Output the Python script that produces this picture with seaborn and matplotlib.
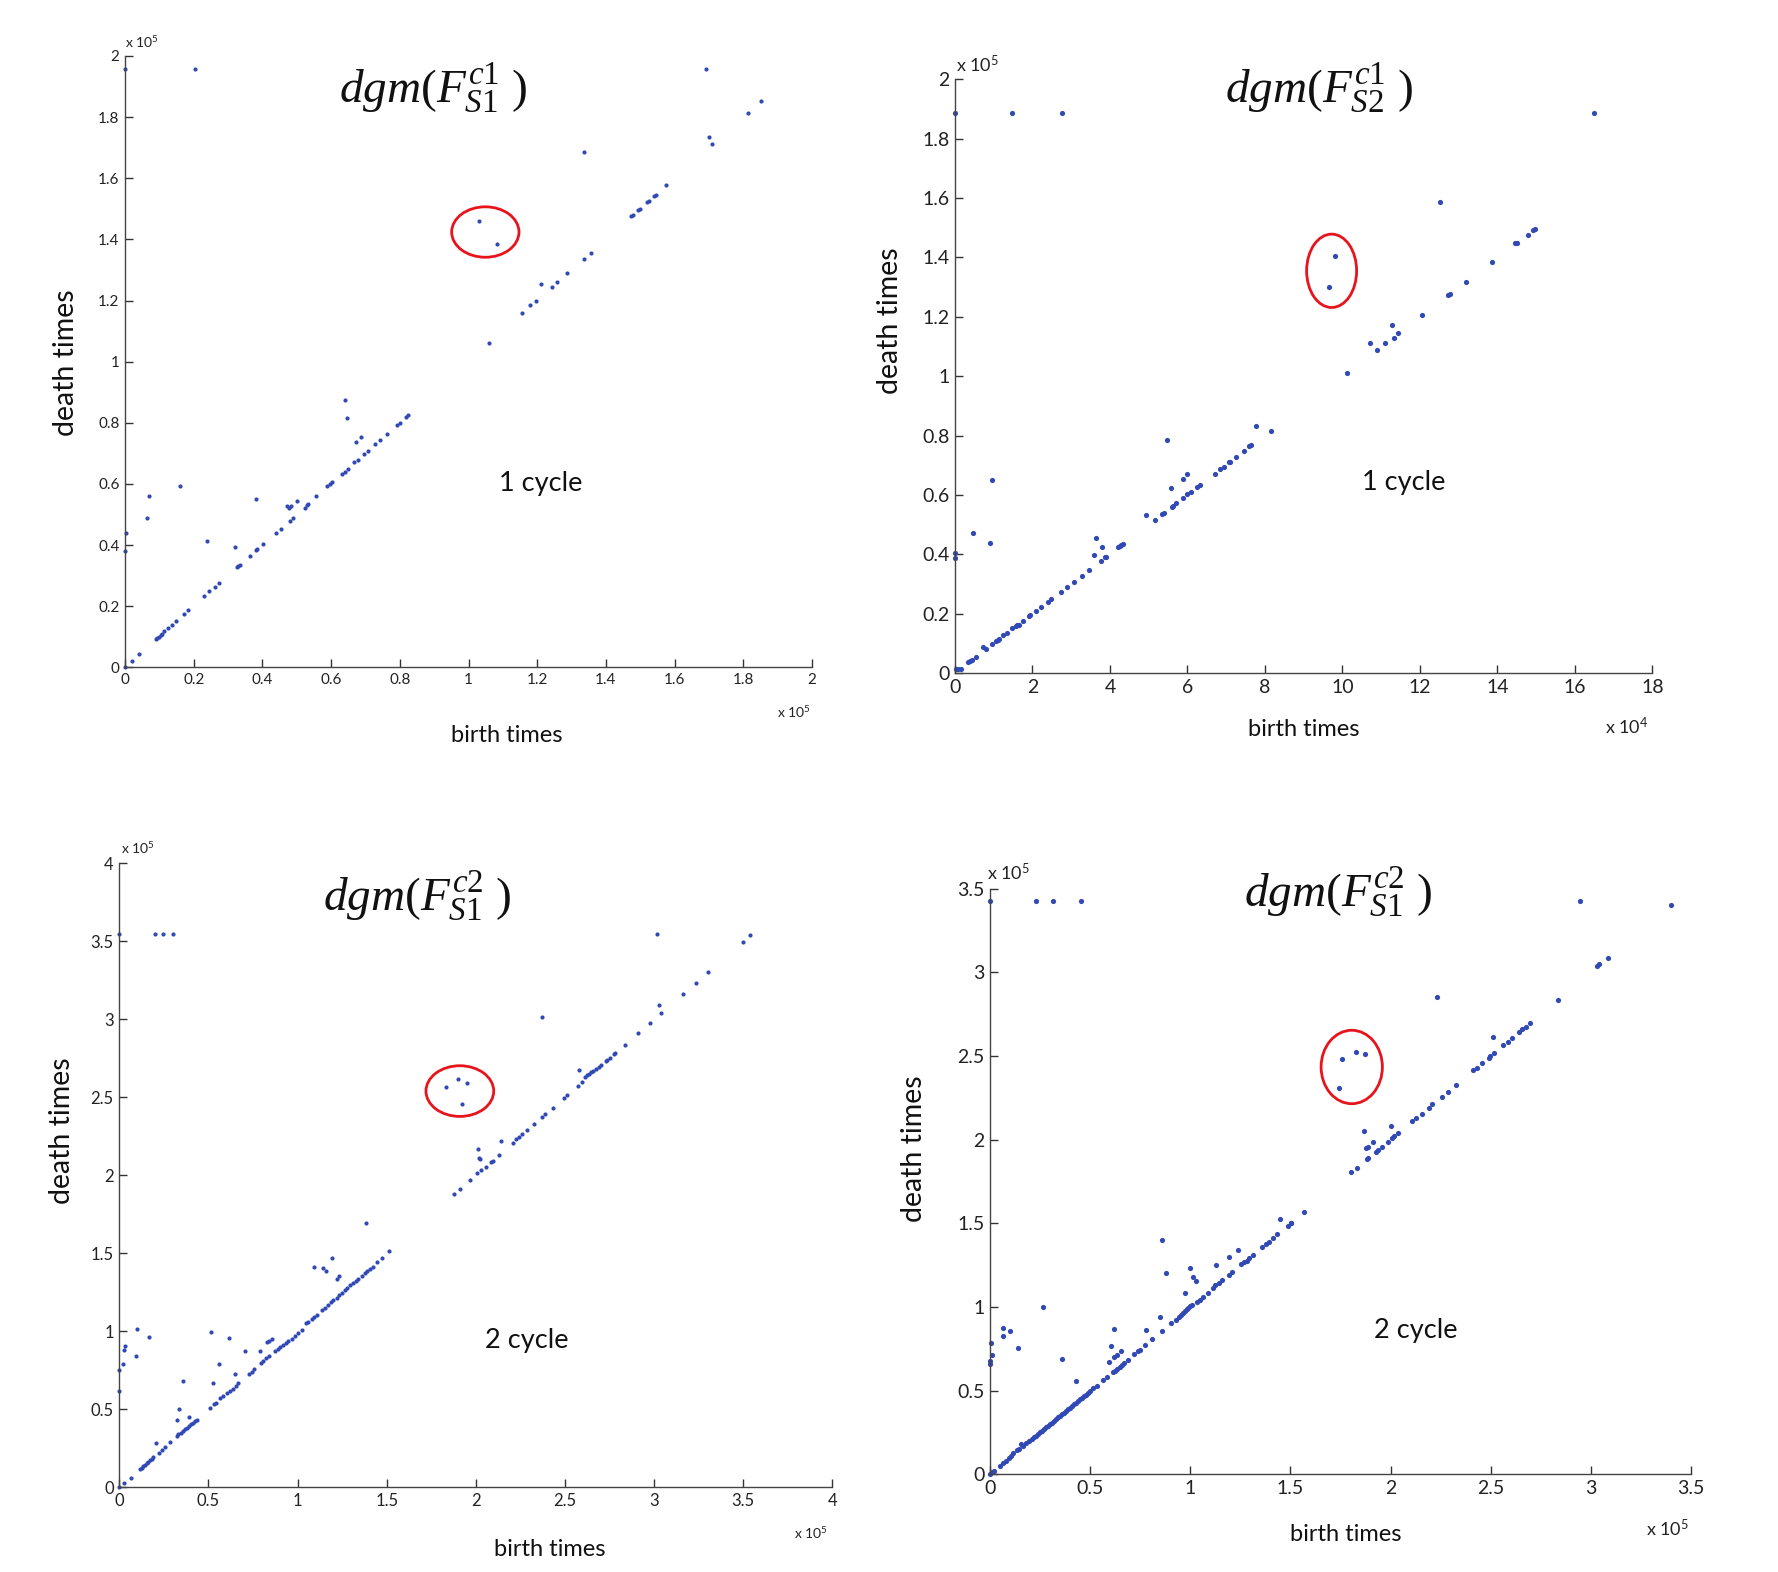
import numpy as np
import pandas as pd
import matplotlib
matplotlib.use("Agg")
import matplotlib.pyplot as plt
from matplotlib.patches import Ellipse
import seaborn as sns

# persistence diagram points, values in units of the offset shown on each axis
b1 = [0, 0.02, 0.042, 0, 0.003, 0.065, 0.071, 0.16,
      0.090, 0.094, 0.098, 0.105, 0.108, 0.115, 0.126, 0.138, 0.149,
      0.172, 0.184, 0.24, 0.231, 0.246, 0.262, 0.275, 0.32,
      0.325, 0.329, 0.334, 0.363, 0.382, 0.385, 0.382, 0.403, 0.44, 0.453,
      0.473, 0.477, 0.484, 0.479, 0.489, 0.501, 0.523, 0.531, 0.534, 0.557,
      0.589, 0.597, 0.604, 0.633, 0.64, 0.65, 0.64, 0.647, 0.666, 0.677, 0.673, 0.687,
      0.697, 0.707, 0.727, 0.742, 0.763, 0.793, 0.8, 0.817, 0.825,
      1.060, 1.157, 1.180, 1.196, 1.210, 1.243, 1.259, 1.287, 1.335, 1.356, 1.335,
      1.473, 1.479, 1.494, 1.498, 1.521, 1.526, 1.541, 1.546, 1.576,
      1.70, 1.708, 1.814, 1.851, 1.69, 0, 0.203,
      1.030, 1.083]
d1 = [0, 0.02, 0.044, 0.38, 0.44, 0.49, 0.56, 0.592,
      0.092, 0.096, 0.100, 0.107, 0.110, 0.118, 0.128, 0.140, 0.151,
      0.174, 0.189, 0.412, 0.232, 0.249, 0.263, 0.276, 0.395,
      0.327, 0.333, 0.335, 0.364, 0.384, 0.386, 0.55, 0.403, 0.441, 0.453,
      0.528, 0.521, 0.529, 0.48, 0.49, 0.545, 0.522, 0.531, 0.535, 0.559,
      0.594, 0.6, 0.606, 0.634, 0.64, 0.65, 0.876, 0.817, 0.671, 0.677, 0.737, 0.754,
      0.698, 0.707, 0.73, 0.743, 0.763, 0.794, 0.798, 0.818, 0.827,
      1.062, 1.159, 1.184, 1.197, 1.255, 1.243, 1.260, 1.289, 1.337, 1.355, 1.685,
      1.475, 1.480, 1.496, 1.499, 1.521, 1.525, 1.542, 1.546, 1.577,
      1.736, 1.711, 1.812, 1.852, 1.956, 1.956, 1.956,
      1.459, 1.384]

b2 = [0.03, 0.08, 0.15, 0, 0, 0.34, 0.38, 0.43, 0.55, 0.46, 0.72, 0.79, 0.90, 0.95, 0.95,
      1.05, 1.10, 1.14, 1.25, 1.34, 1.47, 1.57, 1.61, 1.65, 1.75, 1.91, 1.94, 2.10, 2.21,
      2.39, 2.48, 2.74, 2.89, 3.08, 3.27, 3.46, 3.58, 3.64, 3.79, 3.76, 3.86, 3.90,
      4.20, 4.25, 4.29, 4.34, 4.92, 5.16, 5.35, 5.40, 5.46, 5.58, 5.59, 5.63, 5.70, 5.88,
      5.89, 5.98, 5.99, 6.08, 6.24, 6.32, 6.72, 6.83, 6.93, 7.08, 7.10, 7.26, 7.47, 7.60,
      7.65, 7.78, 8.15,
      10.12, 10.72, 10.88, 11.11, 11.28, 11.32, 11.43, 12.06, 12.52, 12.72, 12.77, 13.18,
      13.86, 14.44, 14.50, 14.78, 14.92, 14.96,
      0, 1.46, 2.76, 16.48,
      9.80, 9.66]
d2 = [0.013, 0.015, 0.016, 0.387, 0.406, 0.037, 0.040, 0.045, 0.056, 0.471, 0.088, 0.081, 0.44, 0.651, 0.097,
      0.108, 0.111, 0.115, 0.128, 0.137, 0.151, 0.160, 0.162, 0.164, 0.176, 0.193, 0.196, 0.21, 0.224,
      0.240, 0.249, 0.274, 0.291, 0.309, 0.328, 0.347, 0.398, 0.454, 0.424, 0.378, 0.39, 0.393,
      0.424, 0.428, 0.433, 0.435, 0.534, 0.517, 0.537, 0.540, 0.787, 0.625, 0.561, 0.563, 0.572, 0.589,
      0.654, 0.671, 0.604, 0.609, 0.626, 0.634, 0.672, 0.687, 0.694, 0.711, 0.713, 0.727, 0.748, 0.765,
      0.769, 0.831, 0.816,
      1.012, 1.112, 1.087, 1.112, 1.174, 1.130, 1.145, 1.206, 1.585, 1.275, 1.277, 1.318,
      1.385, 1.447, 1.449, 1.476, 1.493, 1.495,
      1.885, 1.885, 1.885, 1.885,
      1.406, 1.301]

b3 = [0, 0.026, 0.064, 0, 0, 0.022, 0.028, 0.03, 0.093, 0.10, 0.164,
      0.116, 0.125, 0.135, 0.144, 0.153, 0.163, 0.172, 0.181, 0.19,
      0.207, 0.221, 0.237, 0.258, 0.286, 0.321, 0.335, 0.359, 0.389,
      0.321, 0.332, 0.344, 0.355, 0.366, 0.377, 0.389, 0.400, 0.411, 0.422, 0.434,
      0.514, 0.523, 0.51, 0.531, 0.542, 0.561,
      0.566, 0.583, 0.602, 0.621, 0.639, 0.652, 0.667, 0.617, 0.649, 0.703,
      0.729, 0.742, 0.757, 0.787, 0.793, 0.808, 0.822, 0.839, 0.826, 0.837, 0.856,
      0.873, 0.888, 0.901, 0.916, 0.933, 0.948, 0.966, 0.985, 1.004, 1.022, 1.047, 1.058,
      1.079, 1.093, 1.107, 1.135, 1.153, 1.172, 1.185, 1.2, 1.219, 1.234, 1.247, 1.266,
      1.279, 1.293, 1.308, 1.325, 1.34, 1.359, 1.378, 1.391, 1.406, 1.424, 1.443, 1.471, 1.514,
      1.093, 1.14, 1.159, 1.194, 1.219, 1.234, 1.381,
      1.879, 1.909, 1.965, 2.008, 2.017, 2.023, 2.013, 2.031, 2.055, 2.083, 2.094, 2.128,
      2.142, 2.206, 2.223, 2.242, 2.26, 2.288, 2.328, 2.371, 2.373, 2.389, 2.431, 2.492,
      2.511, 2.571, 2.576, 2.597, 2.612, 2.623, 2.636, 2.647, 2.658, 2.672, 2.689, 2.70,
      2.728, 2.733, 2.752, 2.776, 2.782, 2.835, 2.911, 2.976, 3.029, 3.036, 3.161, 3.233,
      3.303, 3.498, 3.537, 3.017,
      0, 0.2, 0.245, 0.30,
      1.832, 1.898, 1.948, 1.922]
d3 = [0, 0.026, 0.06, 0.617, 0.752, 0.788, 0.88, 0.906, 0.844, 1.017, 0.964,
      0.115, 0.124, 0.134, 0.144, 0.154, 0.163, 0.172, 0.181, 0.191,
      0.282, 0.22, 0.237, 0.26, 0.288, 0.434, 0.504, 0.684, 0.449,
      0.329, 0.340, 0.350, 0.361, 0.371, 0.382, 0.392, 0.403, 0.413, 0.424, 0.434,
      0.998, 0.667, 0.511, 0.532, 0.543, 0.791,
      0.571, 0.588, 0.603, 0.62, 0.632, 0.65, 0.667, 0.957, 0.724, 0.872,
      0.729, 0.741, 0.756, 0.874, 0.795, 0.812, 0.827, 0.840, 0.934, 0.936, 0.953,
      0.876, 0.889, 0.902, 0.912, 0.925, 0.940, 0.953, 0.968, 0.987, 1.009, 1.051, 1.058,
      1.079, 1.094, 1.107, 1.135, 1.152, 1.169, 1.188, 1.201, 1.216, 1.231, 1.246, 1.263,
      1.280, 1.297, 1.312, 1.325, 1.338, 1.353, 1.372, 1.385, 1.402, 1.415, 1.444, 1.468, 1.515,
      1.415, 1.404, 1.385, 1.47, 1.335, 1.355, 1.694,
      1.882, 1.91, 1.970, 2.013, 2.113, 2.104, 2.171, 2.034, 2.055, 2.085, 2.094, 2.13,
      2.22, 2.209, 2.231, 2.245, 2.263, 2.29, 2.329, 3.015, 2.374, 2.393, 2.433, 2.493,
      2.515, 2.572, 2.675, 2.596, 2.628, 2.641, 2.651, 2.662, 2.671, 2.681, 2.696, 2.707,
      2.731, 2.739, 2.754, 2.78, 2.786, 2.835, 2.912, 2.976, 3.092, 3.038, 3.164, 3.235,
      3.305, 3.497, 3.538, 3.549,
      3.55, 3.55, 3.55, 3.55,
      2.566, 2.619, 2.59, 2.459]

b4 = [0, 0.012, 0.022, 0, 0, 0.01, 0.007, 0.067, 0.067, 0.098, 0.138, 0.265, 0.358, 0.431,
      0.05, 0.063, 0.078, 0.093, 0.105, 0.113, 0.136, 0.146, 0.155, 0.166, 0.18, 0.195, 0.208,
      0.22, 0.23, 0.24, 0.25, 0.26, 0.27, 0.28, 0.29, 0.30, 0.31, 0.32, 0.33, 0.34, 0.35,
      0.36, 0.37, 0.38, 0.39, 0.40, 0.41, 0.42, 0.43, 0.44, 0.45, 0.46, 0.47, 0.48, 0.49, 0.50,
      0.516, 0.532, 0.562, 0.582, 0.612, 0.624, 0.636, 0.649, 0.659, 0.669,
      0.596, 0.602, 0.617, 0.617, 0.636, 0.656, 0.687, 0.719, 0.74, 0.75, 0.772, 0.777,
      0.809, 0.85, 0.857, 0.857, 0.88, 0.904, 0.927,
      0.945, 0.955, 0.965, 0.973, 0.982, 0.99, 0.998, 1.008, 0.972, 1.0, 1.013, 1.027,
      1.032, 1.047, 1.062, 1.088, 1.111, 1.125, 1.141, 1.16, 1.128, 1.193, 1.208, 1.191, 1.236,
      1.255, 1.268, 1.281, 1.295, 1.314, 1.356, 1.378, 1.393, 1.414, 1.431, 1.448, 1.486, 1.501,
      1.503, 1.567,
      1.804, 1.832, 1.869, 1.879, 1.882, 1.889, 1.886, 1.911, 1.925, 1.937, 1.957, 1.986,
      2.002, 2.009, 2.018, 2.038, 2.105, 2.127, 2.155, 2.19, 2.208, 2.233, 2.257, 2.285,
      2.328, 2.413, 2.431, 2.456, 2.49, 2.496, 2.518, 2.511, 2.563, 2.586, 2.608, 2.641,
      2.658, 2.676, 2.696, 2.834, 3.030, 3.042, 3.084, 3.398, 2.946,
      0, 0.232, 0.314, 0.453,
      1.756, 1.826, 1.874, 1.742]
d4 = [0, 0.012, 0.018, 0.657, 0.677, 0.715, 0.783, 0.827, 0.873, 0.859, 0.753, 1.002, 0.687, 0.558,
      0.05, 0.066, 0.078, 0.096, 0.108, 0.125, 0.143, 0.151, 0.181, 0.169, 0.189, 0.201, 0.213,
      0.222, 0.231, 0.241, 0.251, 0.26, 0.27, 0.281, 0.29, 0.30, 0.309, 0.32, 0.329, 0.34, 0.349,
      0.36, 0.369, 0.379, 0.39, 0.399, 0.409, 0.419, 0.429, 0.438, 0.449, 0.458, 0.468, 0.477, 0.488, 0.497,
      0.514, 0.530, 0.564, 0.580, 0.610, 0.618, 0.627, 0.639, 0.651, 0.663,
      0.669, 0.767, 0.871, 0.699, 0.715, 0.739, 0.683, 0.717, 0.739, 0.743, 0.771, 0.863,
      0.807, 0.94, 0.857, 1.40, 1.205, 0.902, 0.922,
      0.942, 0.954, 0.966, 0.978, 0.986, 0.996, 1.006, 1.01, 1.082, 1.233, 1.181, 1.155,
      1.028, 1.042, 1.058, 1.084, 1.114, 1.131, 1.143, 1.159, 1.251, 1.191, 1.209, 1.299, 1.341,
      1.255, 1.267, 1.277, 1.291, 1.313, 1.357, 1.375, 1.386, 1.41, 1.434, 1.526, 1.482, 1.502,
      1.504, 1.568,
      1.805, 1.833, 2.052, 1.952, 1.883, 1.889, 1.958, 1.986, 1.928, 1.938, 1.958, 1.988,
      2.084, 2.012, 2.022, 2.042, 2.110, 2.128, 2.154, 2.191, 2.212, 2.855, 2.257, 2.285,
      2.329, 2.415, 2.43, 2.458, 2.49, 2.498, 2.520, 2.614, 2.566, 2.586, 2.610, 2.644,
      2.662, 2.676, 2.700, 2.837, 3.036, 3.052, 3.088, 3.401, 3.427,
      3.427, 3.427, 3.427, 3.427,
      2.480, 2.526, 2.514, 2.311]

titles = [r"$dgm(F^{\mathit{c1}}_{\mathit{S1}}\ )$", r"$dgm(F^{\mathit{c1}}_{\mathit{S2}}\ )$",
          r"$dgm(F^{\mathit{c2}}_{\mathit{S1}}\ )$", r"$dgm(F^{\mathit{c2}}_{\mathit{S1}}\ )$"]
cycle_labels = ["1 cycle", "1 cycle", "2 cycle", "2 cycle"]

sns.set_theme(style="ticks")
plt.rcParams['font.family'] = ['Lato', 'DejaVu Sans']
plt.rcParams['mathtext.fontset'] = 'custom'
plt.rcParams['mathtext.rm'] = 'Liberation Serif'
plt.rcParams['mathtext.it'] = 'Liberation Serif:italic'
plt.rcParams['mathtext.sf'] = 'Lato'

fig = plt.figure(figsize=(17.78, 15.72), dpi=100)

# rect, limits, ticks, tick font size, marker size, exponent labels, text/label positions
panels = [
    dict(rect=[0.0703, 0.5755, 0.3864, 0.3889], b=b1, d=d1, xmax=2, ymax=2,
         xt=np.arange(0, 2.01, 0.2), yt=np.arange(0, 2.01, 0.2), fs=11, s=9,
         xexp="5", title=(0.448, 0.948), cyc=(1.21, 0.60), xl=(0.556, -0.111), yl=(-0.086, 0.498),
         top=(0.025, 1.022), bot=(0.974, -0.073), ofs=10, ell=(1.049, 1.424, 0.196, 0.165)),
    dict(rect=[0.5371, 0.5717, 0.3923, 0.3779], b=b2, d=d2, xmax=18, ymax=2,
         xt=np.arange(0, 18.1, 2), yt=np.arange(0, 2.01, 0.2), fs=14, s=14,
         xexp="4", title=(0.522, 0.985), cyc=(11.59, 0.644), xl=(0.50, -0.095), yl=(-0.093, 0.593),
         top=(0.032, 1.024), bot=(0.963, -0.09), ofs=13, ell=(9.72, 1.355, 1.29, 0.247)),
    dict(rect=[0.0671, 0.0539, 0.4011, 0.3969], b=b3, d=d3, xmax=4, ymax=4,
         xt=np.arange(0, 4.01, 0.5), yt=np.arange(0, 4.01, 0.5), fs=12, s=9,
         xexp="5", title=(0.418, 0.948), cyc=(2.287, 0.944), xl=(0.604, -0.099), yl=(-0.080, 0.571),
         top=(0.026, 1.025), bot=(0.970, -0.073), ofs=10, ell=(1.91, 2.54, 0.38, 0.325)),
    dict(rect=[0.5568, 0.0621, 0.3943, 0.3725], b=b4, d=d4, xmax=3.5, ymax=3.5,
         xt=np.arange(0, 3.51, 0.5), yt=np.arange(0, 3.51, 0.5), fs=14, s=14,
         xexp="5", title=(0.497, 0.994), cyc=(2.127, 0.862), xl=(0.507, -0.102), yl=(-0.109, 0.556),
         top=(0.027, 1.028), bot=(0.967, -0.093), ofs=13, ell=(1.806, 2.435, 0.306, 0.439)),
]

for p, title, cyc in zip(panels, titles, cycle_labels):
    ax = fig.add_axes(p["rect"])
    df = pd.DataFrame({"birth": p["b"], "death": p["d"]})
    sns.scatterplot(data=df, x="birth", y="death", ax=ax, color="#3149b4",
                    s=p["s"], linewidth=0, clip_on=False, legend=False)
    ax.set_xlim(0, p["xmax"])
    ax.set_ylim(0, p["ymax"])
    ax.set_xticks(p["xt"])
    ax.set_yticks(p["yt"])
    ax.set_xticklabels(["%g" % v for v in p["xt"]])
    ax.set_yticklabels(["%g" % v for v in p["yt"]])
    ax.tick_params(direction="in", length=6, width=1, colors="#333333",
                   labelsize=p["fs"], labelcolor="#222222", pad=4)
    sns.despine(ax=ax)
    for sp in ["left", "bottom"]:
        ax.spines[sp].set_color("#444444")
        ax.spines[sp].set_linewidth(1)
    ax.set_xlabel("")
    ax.set_ylabel("")
    ax.text(p["xl"][0], p["xl"][1], "birth times", transform=ax.transAxes,
            ha="center", va="center", fontsize=17, color="#111111")
    ax.text(p["yl"][0], p["yl"][1], "death times", transform=ax.transAxes,
            ha="center", va="center", rotation=90, fontsize=20.5, color="#111111")
    ax.text(p["title"][0], p["title"][1], title, transform=ax.transAxes,
            ha="center", va="center", fontsize=34, color="#111111")
    ax.text(p["cyc"][0], p["cyc"][1], cyc, ha="center", va="center",
            fontsize=19.5, color="#111111")
    ax.text(p["top"][0], p["top"][1], r"$\mathsf{x\ 10^{5}}$", transform=ax.transAxes,
            ha="center", va="center", fontsize=p["ofs"], color="#222222")
    ax.text(p["bot"][0], p["bot"][1], r"$\mathsf{x\ 10^{%s}}$" % p["xexp"], transform=ax.transAxes,
            ha="center", va="center", fontsize=p["ofs"], color="#222222")
    ex, ey, ew, eh = p["ell"]
    ax.add_patch(Ellipse((ex, ey), ew, eh, fill=False, edgecolor="#e8141c", linewidth=2))

fig.savefig("out.png", dpi=100, facecolor="white")
